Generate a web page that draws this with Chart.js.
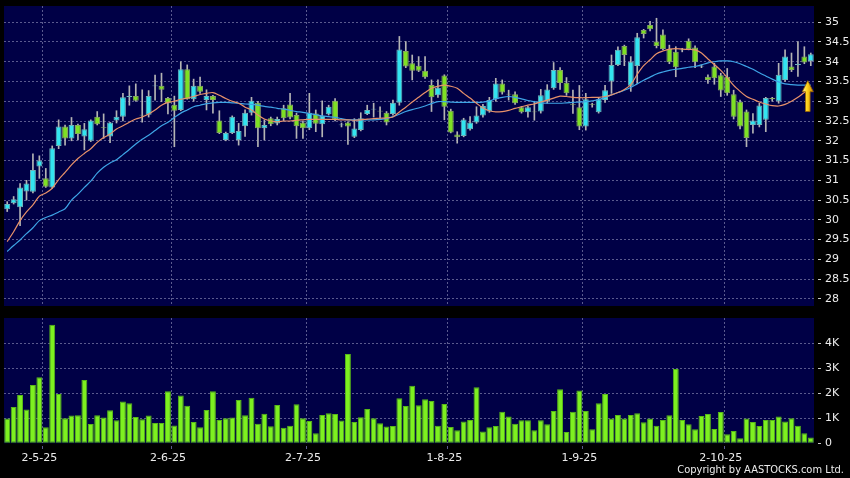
<!DOCTYPE html>
<html>
<head>
<meta charset="utf-8">
<script src="https://cdn.jsdelivr.net/npm/chart.js@4.4.0/dist/chart.umd.min.js"></script>
<style>
  html, body { margin: 0; padding: 0; background: #000; }
  #wrap { position: relative; width: 850px; height: 478px; overflow: hidden; background: #000; }
  #priceBox { position: absolute; left: 0; top: 0; width: 850px; height: 312px; }
  #volBox { position: absolute; left: 0; top: 312px; width: 850px; height: 166px; }
  #copy { position: absolute; right: 6px; top: 463px; color: #ececec; font: 11px "DejaVu Sans", sans-serif; font-stretch: condensed; white-space: nowrap; }
</style>
</head>
<body>
<div id="wrap">
  <div id="priceBox"><canvas id="priceChart"></canvas></div>
  <div id="volBox"><canvas id="volChart"></canvas></div>
  <div id="copy">Copyright by AASTOCKS.com Ltd.</div>
</div>
<script>
// trading days, d-m-yy
const dates = [
  '23-4-25', '24-4-25', '25-4-25', '28-4-25', '29-4-25', '30-4-25',
  '2-5-25', '6-5-25', '7-5-25', '8-5-25', '9-5-25', '12-5-25', '13-5-25', '14-5-25', '15-5-25', '16-5-25',
  '19-5-25', '20-5-25', '21-5-25', '22-5-25', '23-5-25', '26-5-25', '27-5-25', '28-5-25', '29-5-25', '30-5-25',
  '2-6-25', '3-6-25', '4-6-25', '5-6-25', '6-6-25', '9-6-25', '10-6-25', '11-6-25', '12-6-25', '13-6-25',
  '16-6-25', '17-6-25', '18-6-25', '19-6-25', '20-6-25', '23-6-25', '24-6-25', '25-6-25', '26-6-25', '27-6-25', '30-6-25',
  '2-7-25', '3-7-25', '4-7-25', '7-7-25', '8-7-25', '9-7-25', '10-7-25', '11-7-25', '14-7-25', '15-7-25',
  '16-7-25', '17-7-25', '18-7-25', '21-7-25', '22-7-25', '23-7-25', '24-7-25', '25-7-25', '28-7-25', '29-7-25',
  '30-7-25', '31-7-25',
  '1-8-25', '4-8-25', '5-8-25', '6-8-25', '7-8-25', '8-8-25', '11-8-25', '12-8-25', '13-8-25', '14-8-25',
  '15-8-25', '18-8-25', '19-8-25', '20-8-25', '21-8-25', '22-8-25', '25-8-25', '26-8-25', '27-8-25', '28-8-25', '29-8-25',
  '1-9-25', '2-9-25', '3-9-25', '4-9-25', '5-9-25', '8-9-25', '9-9-25', '10-9-25', '11-9-25', '12-9-25',
  '15-9-25', '16-9-25', '17-9-25', '18-9-25', '19-9-25', '22-9-25', '23-9-25', '24-9-25', '25-9-25', '26-9-25',
  '29-9-25', '30-9-25',
  '2-10-25', '3-10-25', '6-10-25', '8-10-25', '9-10-25', '10-10-25', '13-10-25', '14-10-25', '15-10-25', '16-10-25',
  '17-10-25', '20-10-25', '21-10-25', '22-10-25'
];
const monthStarts = ['2-5-25', '2-6-25', '2-7-25', '1-8-25', '1-9-25', '2-10-25'];

const open = [
  30.27, 30.42, 30.32, 30.72, 30.71, 31.35, 31.05, 30.82, 31.87, 32.36,
  32.06, 32.40, 32.11, 32.00, 32.61, 32.35, 32.11, 32.51, 32.61, 33.11,
  33.13, 32.66, 32.66, 33.38, 33.39, 33.08, 32.91, 32.78, 33.81, 33.05,
  33.39, 33.03, 33.13, 32.51, 32.02, 32.20, 32.02, 32.37, 32.71, 32.96,
  32.32, 32.57, 32.44, 32.82, 32.92, 32.65, 32.46, 32.32, 32.69, 32.42,
  32.67, 33.01, 32.39, 32.46, 32.10, 32.27, 32.68, 32.79, 32.76, 32.71,
  32.68, 32.96, 34.27, 33.96, 33.90, 33.77, 33.41, 33.15, 33.65, 32.76,
  32.16, 32.12, 32.29, 32.46, 32.64, 32.74, 33.05, 33.45, 33.19, 33.18,
  32.85, 32.72, 32.74, 32.74, 33.00, 33.33, 33.79, 33.47, 32.93, 32.85,
  32.36, 32.93, 32.72, 33.03, 33.50, 33.92, 34.40, 33.39, 33.89, 34.80,
  34.93, 34.51, 34.69, 34.32, 34.25, 34.29, 34.53, 34.36, 33.88, 33.62,
  33.88, 33.66, 33.62, 33.18, 32.99, 32.74, 32.40, 32.40, 32.53, 33.08,
  33.00, 33.54, 33.88, 33.92, 34.13, 34.02
];
const high = [
  30.46, 30.59, 30.92, 31.00, 31.67, 31.62, 31.30, 31.87, 32.53, 32.40,
  32.59, 32.42, 32.44, 32.53, 32.74, 32.68, 32.47, 32.76, 33.20, 33.39,
  33.44, 33.29, 33.27, 33.66, 33.71, 33.10, 33.13, 34.00, 33.92, 33.56,
  33.61, 33.29, 33.15, 32.76, 32.22, 32.63, 32.44, 32.78, 33.10, 33.00,
  32.53, 32.60, 32.60, 32.90, 33.20, 32.70, 32.50, 33.20, 32.78, 33.01,
  32.90, 33.07, 32.45, 32.48, 32.56, 32.71, 32.90, 32.95, 32.86, 32.74,
  33.03, 34.64, 34.51, 34.17, 34.13, 34.13, 33.54, 33.54, 33.67, 32.80,
  32.23, 32.57, 32.61, 32.86, 32.92, 33.10, 33.58, 33.54, 33.28, 33.24,
  32.87, 32.87, 33.00, 33.30, 33.42, 33.98, 33.85, 33.60, 33.28, 33.40,
  33.20, 32.95, 33.08, 33.40, 34.17, 34.38, 34.42, 34.13, 34.72, 34.82,
  35.02, 35.10, 34.81, 34.42, 34.38, 34.34, 34.58, 34.40, 33.92, 33.67,
  33.96, 33.71, 33.83, 33.28, 33.03, 32.78, 32.69, 32.95, 33.10, 33.10,
  33.96, 34.30, 34.22, 34.51, 34.38, 34.22
];
const low = [
  30.21, 30.40, 29.85, 30.50, 30.68, 31.05, 30.82, 30.80, 31.80, 31.89,
  32.00, 32.02, 31.77, 31.98, 32.40, 32.06, 31.95, 32.45, 32.50, 32.90,
  33.00, 32.47, 32.60, 33.03, 32.99, 32.68, 31.85, 32.76, 33.05, 33.00,
  33.20, 32.78, 32.70, 32.18, 32.00, 32.18, 31.89, 32.11, 32.65, 31.85,
  32.02, 32.38, 32.40, 32.50, 32.55, 32.06, 32.06, 32.28, 32.23, 32.10,
  32.65, 32.50, 32.35, 31.91, 32.08, 32.25, 32.66, 32.60, 32.57, 32.40,
  32.65, 32.90, 33.85, 33.54, 33.75, 33.58, 32.74, 33.10, 32.53, 32.20,
  31.94, 32.10, 32.27, 32.44, 32.60, 32.72, 33.00, 33.18, 33.03, 32.92,
  32.70, 32.60, 32.52, 32.70, 32.95, 33.30, 33.30, 33.15, 32.69, 32.28,
  32.27, 32.85, 32.70, 32.97, 33.20, 33.90, 33.90, 33.25, 33.45, 34.60,
  34.78, 34.35, 34.30, 33.95, 33.62, 34.25, 34.30, 33.85, 33.85, 33.45,
  33.43, 33.12, 33.15, 32.55, 32.30, 31.85, 32.19, 32.35, 32.23, 33.00,
  32.95, 33.50, 33.75, 33.63, 33.95, 33.90
];
const close = [
  30.40, 30.52, 30.82, 30.92, 31.26, 31.50, 30.84, 31.81, 32.36, 32.06,
  32.40, 32.17, 32.29, 32.51, 32.42, 32.33, 32.46, 32.61, 33.10, 33.13,
  33.01, 32.64, 33.13, 33.40, 33.29, 32.95, 32.76, 33.81, 33.05, 33.39,
  33.24, 33.13, 33.03, 32.20, 32.20, 32.61, 32.25, 32.71, 33.01, 32.32,
  32.40, 32.42, 32.55, 32.57, 32.59, 32.37, 32.32, 32.71, 32.43, 32.63,
  32.86, 32.53, 32.41, 32.36, 32.31, 32.57, 32.78, 32.81, 32.74, 32.46,
  32.96, 34.31, 33.88, 33.77, 33.77, 33.61, 33.10, 33.34, 32.86, 32.21,
  32.09, 32.54, 32.46, 32.64, 32.88, 33.03, 33.45, 33.22, 33.17, 32.95,
  32.72, 32.85, 32.72, 33.15, 33.30, 33.79, 33.46, 33.20, 32.91, 32.36,
  33.05, 32.91, 33.05, 33.28, 33.92, 34.30, 34.17, 34.00, 34.62, 34.70,
  34.82, 34.40, 34.32, 33.99, 33.86, 34.31, 34.32, 33.99, 33.90, 33.54,
  33.58, 33.27, 33.20, 32.61, 32.36, 32.07, 32.51, 32.89, 33.08, 33.05,
  33.67, 34.13, 33.79, 33.94, 33.98, 34.19
];
// 10-day and 20-day averages as drawn
const ma10 = [
  29.45, 29.70, 29.98, 30.20, 30.38, 30.60, 30.68, 30.80, 31.02, 31.20,
  31.39, 31.55, 31.68, 31.80, 31.96, 32.08, 32.17, 32.30, 32.38, 32.47,
  32.55, 32.60, 32.68, 32.78, 32.90, 32.97, 33.00, 33.05, 33.08, 33.12,
  33.17, 33.20, 33.22, 33.15, 33.07, 33.00, 32.95, 32.85, 32.78, 32.65,
  32.55, 32.50, 32.48, 32.50, 32.50, 32.52, 32.53, 32.54, 32.54, 32.54,
  32.54, 32.54, 32.53, 32.53, 32.52, 32.53, 32.55, 32.56, 32.57, 32.58,
  32.60, 32.73, 32.85, 32.98, 33.10, 33.22, 33.33, 33.38, 33.41, 33.38,
  33.33, 33.20, 33.08, 32.95, 32.83, 32.76, 32.73, 32.74, 32.77, 32.82,
  32.86, 32.90, 32.93, 32.98, 33.03, 33.08, 33.13, 33.12, 33.10, 33.09,
  33.09, 33.10, 33.10, 33.12, 33.16, 33.22, 33.30, 33.42, 33.68, 33.90,
  34.05, 34.20, 34.27, 34.32, 34.33, 34.32, 34.31, 34.30, 34.22, 34.07,
  33.93, 33.78, 33.60, 33.40, 33.25, 33.12, 33.05, 32.98, 32.93, 32.89,
  32.88, 32.92, 33.00, 33.10, 33.22, 33.30
];
const ma20 = [
  29.20, 29.35, 29.49, 29.65, 29.80, 29.98, 30.06, 30.12, 30.20, 30.28,
  30.50, 30.65, 30.82, 30.98, 31.18, 31.33, 31.44, 31.52, 31.65, 31.78,
  31.92, 32.04, 32.14, 32.26, 32.38, 32.47, 32.59, 32.70, 32.78, 32.86,
  32.90, 32.94, 32.96, 32.97, 32.97, 32.96, 32.95, 32.93, 32.92, 32.90,
  32.87, 32.85, 32.82, 32.80, 32.77, 32.74, 32.72, 32.69, 32.66, 32.63,
  32.61, 32.59, 32.56, 32.53, 32.53, 32.53, 32.53, 32.53, 32.54, 32.56,
  32.61, 32.67, 32.74, 32.79, 32.83, 32.88, 32.94, 32.99, 32.99, 32.98,
  32.97, 32.97, 32.97, 32.97, 32.98, 33.01, 33.06, 33.10, 33.12, 33.10,
  33.06, 33.02, 32.99, 32.96, 32.95, 32.95, 32.95, 32.96, 32.97, 32.98,
  32.99, 33.01, 33.04, 33.10, 33.16, 33.22, 33.28, 33.35, 33.44, 33.53,
  33.61, 33.69, 33.74, 33.78, 33.81, 33.83, 33.86, 33.88, 33.92, 33.97,
  34.00, 34.02, 34.02, 34.00, 33.95, 33.88, 33.81, 33.72, 33.64, 33.56,
  33.49, 33.44, 33.42, 33.41, 33.41, 33.41
];
const volume = [
  990, 1450, 1930, 1350, 2330, 2640, 640, 4730, 1970, 1000,
  1110, 1120, 2530, 770, 1120, 1030, 1320, 920, 1670, 1600,
  1050, 960, 1110, 810, 810, 2080, 710, 1910, 1500, 850,
  640, 1330, 2080, 930, 1000, 1030, 1730, 1120, 1820, 780,
  1180, 680, 1530, 620, 700, 1560, 1000, 890, 400, 1130,
  1200, 1170, 910, 3560, 850, 1040, 1370, 1000, 800, 670,
  690, 1800, 1490, 2300, 1520, 1760, 1690, 700, 1570, 650,
  520, 870, 930, 2240, 470, 640, 690, 1260, 1070, 780,
  920, 920, 520, 920, 760, 1290, 2160, 450, 1260, 2110,
  1290, 560, 1600, 1970, 990, 1130, 990, 1130, 1200, 840,
  990, 700, 930, 1120, 2960, 930, 760, 560, 1090, 1170,
  570, 1250, 360, 490, 200, 990, 850, 690, 930, 930,
  1070, 870, 1000, 700, 400, 230
];
const priceTicks = [28, 28.5, 29, 29.5, 30, 30.5, 31, 31.5, 32, 32.5, 33, 33.5, 34, 34.5, 35];
const volumeTicks = [0, 1000, 2000, 3000, 4000];

const NAVY = '#000046';
const GRID = '#5a5a8e';
const UP = '#33e4f0';
const DOWN = '#7ee024';
const TEXT = '#ececec';

Chart.defaults.font.family = '"DejaVu Sans", sans-serif';
Chart.defaults.font.size = 11;
Chart.defaults.color = TEXT;

const panelBg = {
  id: 'panelBg',
  beforeDraw(chart) {
    const { ctx, chartArea: a } = chart;
    ctx.save();
    ctx.fillStyle = NAVY;
    ctx.fillRect(a.left, a.top, a.right - a.left, a.bottom - a.top);
    ctx.restore();
  }
};

// yellow up-arrow at the latest bar
const arrowMark = {
  id: 'arrowMark',
  afterDatasetsDraw(chart) {
    const { ctx, scales: { x, y } } = chart;
    const cx = x.getPixelForValue(dates.length - 1) - 3;
    const top = y.getPixelForValue(33.52);
    const bottom = y.getPixelForValue(32.74);
    const hw = 5.5, sw = 2.3, hh = 11;
    const g = ctx.createLinearGradient(cx - hw, 0, cx + hw, 0);
    g.addColorStop(0, '#fff39a');
    g.addColorStop(0.45, '#ffd319');
    g.addColorStop(1, '#c98400');
    ctx.save();
    ctx.beginPath();
    ctx.moveTo(cx, top);
    ctx.lineTo(cx + hw, top + hh);
    ctx.lineTo(cx + sw, top + hh);
    ctx.lineTo(cx + sw, bottom);
    ctx.lineTo(cx - sw, bottom);
    ctx.lineTo(cx - sw, top + hh);
    ctx.lineTo(cx - hw, top + hh);
    ctx.closePath();
    ctx.fillStyle = g;
    ctx.fill();
    ctx.strokeStyle = '#9a6400';
    ctx.lineWidth = 0.8;
    ctx.stroke();
    ctx.restore();
  }
};

const monthGrid = ctx => monthStarts.includes(dates[ctx.index]) ? GRID : 'rgba(0,0,0,0)';
const isUp = close.map((c, i) => c >= open[i]);
// right axis: fixed width, no extra room reserved for end labels
const fitRight = s => { s.width = 36; s.paddingTop = 0; s.paddingBottom = 0; };

new Chart(document.getElementById('priceChart'), {
  type: 'bar',
  data: {
    labels: dates,
    datasets: [
      { type: 'line', data: ma10, borderColor: '#e8916a', borderWidth: 1.2, pointRadius: 0, tension: 0.3, order: 0 },
      { type: 'line', data: ma20, borderColor: '#3ea4e6', borderWidth: 1.2, pointRadius: 0, tension: 0.3, order: 0 },
      {
        data: dates.map((d, i) => [open[i], close[i]]),
        backgroundColor: isUp.map(u => u ? UP : DOWN),
        borderColor: isUp.map(u => u ? '#6fb4ba' : '#86a660'),
        borderWidth: 1,
        borderSkipped: false,
        barPercentage: 0.92,
        categoryPercentage: 1,
        grouped: false,
        order: 1
      },
      {
        data: dates.map((d, i) => [low[i], high[i]]),
        backgroundColor: '#b4b4b4',
        barThickness: 1,
        grouped: false,
        order: 2
      }
    ]
  },
  options: {
    responsive: true,
    maintainAspectRatio: false,
    animation: false,
    layout: { padding: { left: 4, top: 6, right: 0, bottom: 6 } },
    plugins: { legend: { display: false }, tooltip: { enabled: false } },
    scales: {
      x: {
        offset: true,
        grid: { offset: true, color: monthGrid, drawTicks: false },
        border: { display: false, dash: [2, 2] },
        ticks: { display: false, autoSkip: false },
        afterFit: s => { s.height = 0; }
      },
      y: {
        position: 'right',
        min: 27.82,
        max: 35.41,
        afterBuildTicks: s => { s.ticks = priceTicks.map(v => ({ value: v })); },
        afterFit: fitRight,
        grid: { color: GRID, tickColor: '#c8c8c8', tickLength: 7, tickBorderDash: [0, 4, 3, 40] },
        border: { display: false, dash: [2, 2] },
        ticks: { color: TEXT, padding: 4, callback: v => String(v) }
      }
    }
  },
  plugins: [panelBg, arrowMark]
});

new Chart(document.getElementById('volChart'), {
  type: 'bar',
  data: {
    labels: dates,
    datasets: [{
      data: volume,
      backgroundColor: '#7df020',
      borderColor: '#58b818',
      borderWidth: 1,
      borderSkipped: false,
      barPercentage: 0.92,
      categoryPercentage: 1
    }]
  },
  options: {
    responsive: true,
    maintainAspectRatio: false,
    animation: false,
    layout: { padding: { left: 4, top: 6, right: 0, bottom: 0 } },
    plugins: { legend: { display: false }, tooltip: { enabled: false } },
    scales: {
      x: {
        offset: true,
        grid: { offset: true, color: monthGrid, tickColor: monthGrid, tickLength: 6, tickBorderDash: [0, 3, 3, 40] },
        border: { display: false, dash: [2, 2] },
        ticks: {
          autoSkip: false,
          maxRotation: 0,
          padding: 2,
          color: TEXT,
          callback: (v, i) => monthStarts.includes(dates[i + 1]) ? dates[i + 1] : ''
        },
        afterFit: s => { s.height = 34.7; s.paddingLeft = 0; s.paddingRight = 0; }
      },
      y: {
        position: 'right',
        min: 0,
        max: 5000,
        afterBuildTicks: s => { s.ticks = volumeTicks.map(v => ({ value: v })); },
        afterFit: fitRight,
        grid: {
          color: ctx => ctx.tick && ctx.tick.value === 0 ? 'rgba(0,0,0,0)' : GRID,
          tickColor: '#c8c8c8',
          tickLength: 7,
          tickBorderDash: [0, 4, 3, 40]
        },
        border: { display: false, dash: [2, 2] },
        ticks: { color: TEXT, padding: 4, callback: v => v === 0 ? '0' : (v / 1000) + 'K' }
      }
    }
  },
  plugins: [panelBg]
});
</script>
</body>
</html>
